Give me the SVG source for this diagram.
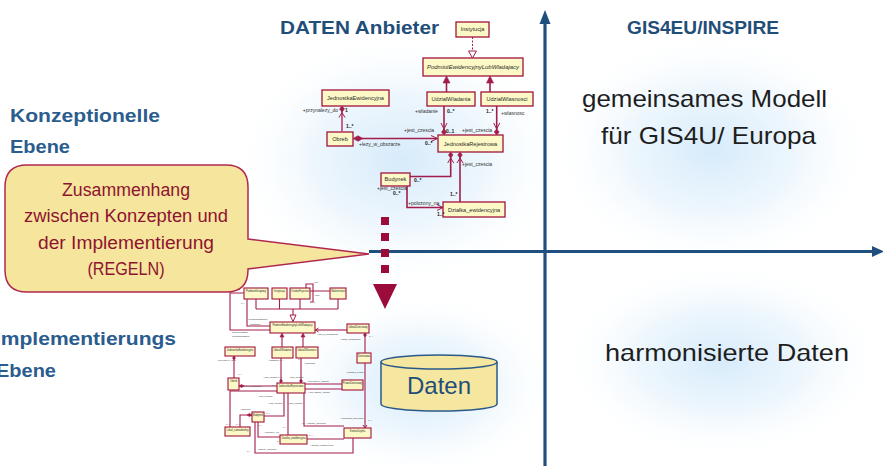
<svg xmlns="http://www.w3.org/2000/svg" width="883" height="466" viewBox="0 0 883 466">
  <defs>
    <radialGradient id="glow" cx="50%" cy="50%" r="50%">
      <stop offset="0" stop-color="#cfe7fa" stop-opacity="0.85"/>
      <stop offset="0.5" stop-color="#deeffb" stop-opacity="0.55"/>
      <stop offset="1" stop-color="#ffffff" stop-opacity="0"/>
    </radialGradient>
    <style>
      .title { font-family: "Liberation Sans", Arial, sans-serif; font-size: 19px; font-weight: bold; fill: #1f4e79; }
      .level { font-family: "Liberation Sans", Arial, sans-serif; font-size: 19px; font-weight: bold; fill: #2b5c8e; }
      .big { font-family: "Liberation Sans", Arial, sans-serif; font-size: 24px; fill: #1e1e1e; }
      .note { font-family: "Liberation Sans", Arial, sans-serif; font-size: 17.5px; fill: #8e1330; text-anchor: middle; }
      .axis { stroke: #1f4f7f; stroke-width: 3.2; fill: none; }
      .cls { fill: #fdf9c6; stroke: #a0133d; stroke-width: 1.3; }
      .cls2 { fill: #fdf9c6; stroke: #a0133d; stroke-width: 1.1; }
      .cname { font-family: "Liberation Sans", Arial, sans-serif; font-size: 5.6px; fill: #2a2a2a; text-anchor: middle; }
      .cname2 { font-family: "Liberation Sans", Arial, sans-serif; font-size: 2.6px; fill: #2a2a2a; text-anchor: middle; }
      .lbl { font-family: "Liberation Sans", Arial, sans-serif; font-size: 5px; fill: #333; }
      .lblb { font-family: "Liberation Sans", Arial, sans-serif; font-size: 5px; font-weight: bold; fill: #222; }
      .lbl2 { font-family: "Liberation Sans", Arial, sans-serif; font-size: 2.4px; fill: #333; }
      .ln { stroke: #a31d4b; stroke-width: 1.6; fill: none; }
      .lnl { stroke: #c4537a; stroke-width: 1.8; fill: none; }
      .ln2 { stroke: #a31d4b; stroke-width: 1.1; fill: none; }
      .head { fill: #a31d4b; stroke: #a31d4b; stroke-width: 0.6; }
      .open { fill: none; stroke: #a31d4b; stroke-width: 1; }
      .hollow { fill: #ffffff; stroke: #a31d4b; stroke-width: 1; }
    </style>
  </defs>

  <!-- soft blue backdrop -->
  <rect width="883" height="466" fill="#ffffff"/>
  <g id="backdrop">
    <ellipse cx="400" cy="160" rx="170" ry="130" fill="url(#glow)"/>
    <ellipse cx="712" cy="150" rx="165" ry="120" fill="url(#glow)"/>
    <ellipse cx="722" cy="360" rx="165" ry="100" fill="url(#glow)"/>
    <ellipse cx="420" cy="385" rx="140" ry="95" fill="url(#glow)"/>
  </g>

  <!-- axes -->
  <g id="axes">
    <line class="axis" x1="545" y1="22" x2="545" y2="466"/>
    <polygon points="539.5,24 545,10 550.5,24" fill="#1f4f7f"/>
    <line class="axis" x1="369" y1="251.5" x2="874" y2="251.5"/>
    <polygon points="872,246 884,251.5 872,257" fill="#1f4f7f"/>
  </g>

  <!-- headings -->
  <g id="headings">
    <text class="title" x="280" y="34" textLength="159" lengthAdjust="spacingAndGlyphs">DATEN Anbieter</text>
    <text class="title" x="627" y="34" textLength="152" lengthAdjust="spacingAndGlyphs">GIS4EU/INSPIRE</text>
    <text class="level" x="10" y="122" textLength="150" lengthAdjust="spacingAndGlyphs">Konzeptionelle</text>
    <text class="level" x="10" y="153" textLength="60" lengthAdjust="spacingAndGlyphs">Ebene</text>
    <text class="level" x="-5" y="345" textLength="181" lengthAdjust="spacingAndGlyphs">Implementierungs</text>
    <text class="level" x="-4" y="377" textLength="60" lengthAdjust="spacingAndGlyphs">Ebene</text>
    <text class="big" x="582" y="107" textLength="245" lengthAdjust="spacingAndGlyphs">gemeinsames Modell</text>
    <text class="big" x="601" y="144" textLength="215" lengthAdjust="spacingAndGlyphs">für GIS4U/ Europa</text>
    <text class="big" x="605" y="361" textLength="244" lengthAdjust="spacingAndGlyphs">harmonisierte Daten</text>
  </g>

  <!-- callout -->
  <g id="callout">
    <path d="M27,165 H226 Q248,165 248,187 V239 L369,254 L248,269 V270 Q248,292 226,292 H27 Q5,292 5,270 V187 Q5,165 27,165 Z" fill="#f6e59c" stroke="#b0284f" stroke-width="1.5"/>
    <text class="note" x="126" y="196" textLength="128" lengthAdjust="spacingAndGlyphs">Zusammenhang</text>
    <text class="note" x="126" y="222" textLength="204" lengthAdjust="spacingAndGlyphs">zwischen Konzepten und</text>
    <text class="note" x="126" y="249" textLength="176" lengthAdjust="spacingAndGlyphs">der Implementierung</text>
    <text class="note" x="126" y="275" textLength="77" lengthAdjust="spacingAndGlyphs">(REGELN)</text>
  </g>

  <!-- dashed mapping arrow -->
  <g id="mapping-arrow">
    <line x1="385" y1="217" x2="385" y2="276" stroke="#9c0c3a" stroke-width="8" stroke-dasharray="8,8"/>
    <polygon points="373,284 397,284 385,309" fill="#9c0c3a"/>
  </g>

  <!-- data store -->
  <g id="daten">
    <path d="M381,362 V404 A58,7 0 0 0 497,404 V362" fill="#f5e6a0" stroke="#2a5a8a" stroke-width="1.5"/>
    <ellipse cx="439" cy="362" rx="58" ry="7" fill="#f5e6a0" stroke="#2a5a8a" stroke-width="1.5"/>
    <text x="439" y="394" font-family="Liberation Sans, Arial, sans-serif" font-size="24" fill="#1f4e79" text-anchor="middle">Daten</text>
  </g>

  <!-- conceptual model: classes -->
  <g id="c-instytucja"><rect class="cls" x="456" y="22" width="33" height="15"/><text class="cname" x="472.5" y="31">Instytucja</text></g>
  <g id="c-podmiot"><rect class="cls" x="423" y="58" width="100" height="18"/><text class="cname" x="473" y="69" font-style="italic" textLength="92" lengthAdjust="spacingAndGlyphs">PodmiotEwidencyjnyLubWladajacy</text></g>
  <g id="c-udzialwladania"><rect class="cls" x="427" y="92" width="48" height="14"/><text class="cname" x="451" y="101">UdzialWladania</text></g>
  <g id="c-udzialwlasnosci"><rect class="cls" x="481" y="92" width="52" height="14"/><text class="cname" x="507" y="101">UdzialWlasnosci</text></g>
  <g id="c-jednostkaewid"><rect class="cls" x="322" y="90" width="67" height="16"/><text class="cname" x="355.5" y="99.5">JednostkaEwidencyjna</text></g>
  <g id="c-obreb"><rect class="cls" x="327" y="132" width="26" height="14"/><text class="cname" x="340" y="141">Obreb</text></g>
  <g id="c-jednostkarej"><rect class="cls" x="438" y="135" width="65" height="17"/><text class="cname" x="470.5" y="145.5">JednostkaRejestrowa</text></g>
  <g id="c-budynek"><rect class="cls" x="381" y="173" width="29" height="13"/><text class="cname" x="395.5" y="181">Budynek</text></g>
  <g id="c-dzialka"><rect class="cls" x="443" y="202" width="62" height="15"/><text class="cname" x="474" y="211.5">Dzialka_ewidencyjna</text></g>

  <!-- conceptual model: connectors -->
  <g id="connectors">
    <line x1="472.5" y1="37" x2="472.5" y2="51" stroke="#a31d4b" stroke-width="1" stroke-dasharray="2,1.5"/>
    <polygon class="hollow" points="468.5,51 476.5,51 472.5,58"/>

    <line class="ln" x1="446.5" y1="92" x2="446.5" y2="81"/>
    <polygon class="head" points="443,83 446.5,76 450,83"/>
    <line class="ln" x1="490" y1="92" x2="490" y2="81"/>
    <polygon class="head" points="486.5,83 490,76 493.5,83"/>

    <line class="ln" x1="444" y1="106" x2="444" y2="130"/>
    <polyline class="open" points="441,123 444,129 447,123"/>
    <polygon class="head" points="444,129 446.5,132 444,135 441.5,132"/>
    <line class="ln" x1="496.7" y1="106" x2="496.7" y2="130"/>
    <polyline class="open" points="493.7,123 496.7,129 499.7,123"/>
    <polygon class="head" points="496.7,129 499.2,132 496.7,135 494.2,132"/>

    <line class="lnl" x1="342" y1="132" x2="342" y2="111"/>
    <polygon class="head" points="342,106 344.5,109 342,112 339.5,109"/>
    <polyline class="open" points="339,117.5 342,112.5 345,117.5"/>

    <line class="ln" x1="362" y1="138.5" x2="437" y2="138.5"/>
    <polygon class="head" points="353,138.5 358,135.8 363,138.5 358,141.2"/>
    <polyline class="open" points="431,135.5 437.5,138.5 431,141.5"/>

    <path class="ln" d="M450.7,157 V176.5 H410"/>
    <polygon class="head" points="450.7,152 453,155 450.7,158 448.4,155"/>
    <polyline class="open" points="447.7,163 450.7,158 453.7,163"/>
    <line class="ln" x1="460" y1="157" x2="460" y2="202"/>
    <polygon class="head" points="460,152 462.3,155 460,158 457.7,155"/>
    <polyline class="open" points="457,163 460,158 463,163"/>

    <path class="ln" d="M407,186 V207.5 H442"/>
    <polyline class="open" points="437,204.5 443,207.5 437,210.5"/>

    <text class="lbl" x="338" y="112" text-anchor="end">+przynalezy_do</text>
    <text class="lblb" x="345" y="112">1</text>
    <text class="lblb" x="346" y="128">1..*</text>
    <text class="lbl" x="359" y="146">+lezy_w_obszarze</text>
    <text class="lblb" x="425" y="145">0..*</text>
    <text class="lbl" x="415" y="113">+wladanie</text>
    <text class="lblb" x="447" y="113">0..*</text>
    <text class="lblb" x="486" y="113">1..*</text>
    <text class="lbl" x="501" y="115">+wlasnosc</text>
    <text class="lbl" x="404" y="132">+jest_czescia</text>
    <text class="lblb" x="446" y="133">0..1</text>
    <text class="lbl" x="462" y="132">+jest_czescia</text>
    <text class="lbl" x="462" y="166">+jest_czescia</text>
    <text class="lblb" x="414" y="182">0..*</text>
    <text class="lbl" x="377" y="189.5">+jest_czescia</text>
    <text class="lblb" x="393" y="195">0..*</text>
    <text class="lblb" x="450" y="196">1..*</text>
    <text class="lbl" x="408" y="205">+polozony_na</text>
    <text class="lblb" x="437" y="216">1..*</text>
  </g>

  <!-- implementation model: classes -->
  <g id="i-podmiotgrupowy"><rect class="cls2" x="244" y="288" width="24" height="11"/><text class="cname2" x="256" y="292">PodmiotGrupowy</text></g>
  <g id="i-instytucja"><rect class="cls2" x="272" y="288" width="15" height="11"/><text class="cname2" x="279.5" y="292">Instytucja</text></g>
  <g id="i-osobafizyczna"><rect class="cls2" x="290" y="288" width="20" height="11"/><text class="cname2" x="300" y="292">OsobaFizyczna</text></g>
  <g id="i-malzenstwo"><rect class="cls2" x="330" y="288" width="16" height="11"/><text class="cname2" x="338" y="292">Malzenstwo</text></g>
  <g id="i-podmiot"><rect class="cls2" x="270" y="322" width="45" height="11"/><text class="cname2" x="292.5" y="326">PodmiotEwidencyjnyLubWladajacy</text></g>
  <g id="i-udzialdzierzawy"><rect class="cls2" x="347" y="324" width="22" height="9"/><text class="cname2" x="358" y="328">UdzialDzierzawy</text></g>
  <g id="i-jednostkaewid"><rect class="cls2" x="225" y="347" width="30" height="9"/><text class="cname2" x="240" y="351">JednostkaEwidencyjna</text></g>
  <g id="i-udzialwladania"><rect class="cls2" x="272" y="347" width="21" height="11"/><text class="cname2" x="282.5" y="351">UdzialWladania</text></g>
  <g id="i-udzialwlasnosci"><rect class="cls2" x="296" y="347" width="22" height="11"/><text class="cname2" x="307" y="351">UdzialWlasnosci</text></g>
  <g id="i-dzierzawa"><rect class="cls2" x="357" y="353" width="14" height="10"/><text class="cname2" x="364" y="357">Dzierzawa</text></g>
  <g id="i-obreb"><rect class="cls2" x="228" y="378" width="11" height="12"/><text class="cname2" x="233.5" y="382">Obreb</text></g>
  <g id="i-jednostkarej"><rect class="cls2" x="277" y="383" width="28" height="10"/><text class="cname2" x="291" y="387">JednostkaRejestrowa</text></g>
  <g id="i-prawodzierzawy"><rect class="cls2" x="342" y="380" width="21" height="10"/><text class="cname2" x="352.5" y="384">PrawoDzierzawy</text></g>
  <g id="i-budynek"><rect class="cls2" x="252" y="412" width="12" height="10"/><text class="cname2" x="258" y="416">Budynek</text></g>
  <g id="i-lokal"><rect class="cls2" x="225" y="427" width="25" height="9"/><text class="cname2" x="237.5" y="431">Lokal_samodzielny</text></g>
  <g id="i-dzialka"><rect class="cls2" x="280" y="435" width="27" height="9"/><text class="cname2" x="293.5" y="439">Dzialka_ewidencyjna</text></g>
  <g id="i-kontur"><rect class="cls2" x="344" y="428" width="27" height="10"/><text class="cname2" x="357.5" y="432">KonturUzytku</text></g>

  <!-- implementation model: connectors -->
  <g id="impl-connectors">
    <path class="ln2" d="M256,299 V309 M279.5,299 V309 M300,299 V309 M338,299 V309 M256,309 H338 M293,309 V315"/>
    <polygon class="hollow" stroke-width="0.7" points="290,315 296,315 293,321.5"/>
    <path class="ln2" d="M310,291 H330 M306,288 V284 H313 V302 H310"/>
    <path class="ln2" d="M244,293 H230 V330 H270 M247,299 V326 H270"/>
    <path class="ln2" d="M347,330 H315"/>
    <polyline class="open" stroke-width="0.7" points="318.5,328 315.5,330 318.5,332"/>
    <path class="ln2" d="M365,333 V353"/>
    <polygon class="head" points="365,333 366.5,335 365,337 363.5,335"/>
    <path class="ln2" d="M282,347 V336 M303,347 V336"/>
    <polygon class="head" points="280,337 282,333 284,337"/>
    <polygon class="head" points="301,337 303,333 305,337"/>
    <path class="ln2" d="M234,356 V378"/>
    <polygon class="head" points="234,356 235.5,358 234,360 232.5,358"/>
    <path class="ln2" d="M281,358 V383 M301,358 V383"/>
    <polygon class="head" points="281,379 282.5,381 281,383 279.5,381"/>
    <polygon class="head" points="301,379 302.5,381 301,383 299.5,381"/>
    <path class="ln2" d="M239,386 H277"/>
    <polygon class="head" points="239,386 241.5,384.5 244,386 241.5,387.5"/>
    <path class="ln2" d="M342,384 H305 M342,389 H305"/>
    <path class="ln2" d="M365,363 V428"/>
    <polyline class="open" stroke-width="0.7" points="363,425 365,428 367,425"/>
    <path class="ln2" d="M277,391 H230 V427"/>
    <path class="ln2" d="M252,415 H240 V427"/>
    <polygon class="head" points="252,415 249.5,413.5 247,415 249.5,416.5"/>
    <path class="ln2" d="M264,416 H284 V393"/>
    <path class="ln2" d="M288,393 V435"/>
    <path class="ln2" d="M258,422 V437 H280"/>
    <path class="ln2" d="M255,422 V453 H353 V438"/>
    <path class="ln2" d="M307,439 H344"/>
    <path class="ln2" d="M304,393 V426 H344"/>

    <text class="lbl2" x="313" y="283">+ma</text>
    <text class="lbl2" x="314" y="296">+jest</text>
    <text class="lbl2" x="314" y="303">1</text>
    <text class="lbl2" x="241" y="304">0..*</text>
    <text class="lbl2" x="247" y="320">+[nrPodmiotObjety]</text>
    <text class="lbl2" x="249" y="325">+wladajacy</text>
    <text class="lbl2" x="232" y="333">[nrMalzenstwo]</text>
    <text class="lbl2" x="232" y="337">nrPodmiotObjety</text>
    <text class="lbl2" x="317" y="335">+jest_w_posiadaniu</text>
    <text class="lbl2" x="340" y="340">+udzial_posiadanie</text>
    <text class="lbl2" x="369" y="337">1..*</text>
    <text class="lbl2" x="217" y="361">+przynalezy_do 1</text>
    <text class="lbl2" x="268" y="361">+wladanie 0..*</text>
    <text class="lbl2" x="298" y="360">1..*</text>
    <text class="lbl2" x="304" y="364">+wlasnosc</text>
    <text class="lbl2" x="238" y="375">1..*</text>
    <text class="lbl2" x="263" y="378">+jest_czescia 0..1</text>
    <text class="lbl2" x="289" y="378">+jest_czescia</text>
    <text class="lbl2" x="242" y="387">+lezy_w_obszarze</text>
    <text class="lbl2" x="272" y="386">0..*</text>
    <text class="lbl2" x="307" y="382">+przynalezy_obiektu</text>
    <text class="lbl2" x="308" y="393">+ma_obiekty_prawa</text>
    <text class="lbl2" x="346" y="373">+posiada_prawo</text>
    <text class="lbl2" x="258" y="397">+jest_czescia</text>
    <text class="lbl2" x="268" y="404">+jest_czescia</text>
    <text class="lbl2" x="288" y="404">+jest_czescia</text>
    <text class="lbl2" x="240" y="410">+budynek</text>
    <text class="lbl2" x="266" y="414">0..*</text>
    <text class="lbl2" x="340" y="419">+przedmiot_dzierzawy</text>
    <text class="lbl2" x="368" y="421">1..*</text>
    <text class="lbl2" x="302" y="424">0..* +obiekty_sieciowe</text>
    <text class="lbl2" x="226" y="425">0..*</text>
    <text class="lbl2" x="236" y="425">0..*</text>
    <text class="lbl2" x="258" y="426">0..*</text>
    <text class="lbl2" x="283" y="428">1..*</text>
    <text class="lbl2" x="264" y="433">+polozony_na</text>
    <text class="lbl2" x="309" y="436">0..*</text>
    <text class="lbl2" x="277" y="442">1..*</text>
    <text class="lbl2" x="310" y="446">+dzialka_ewidencyjna</text>
    <text class="lbl2" x="247" y="452">0..*</text>
    <text class="lbl2" x="257" y="450">+obiekty_sieciowe</text>
  </g>
</svg>
